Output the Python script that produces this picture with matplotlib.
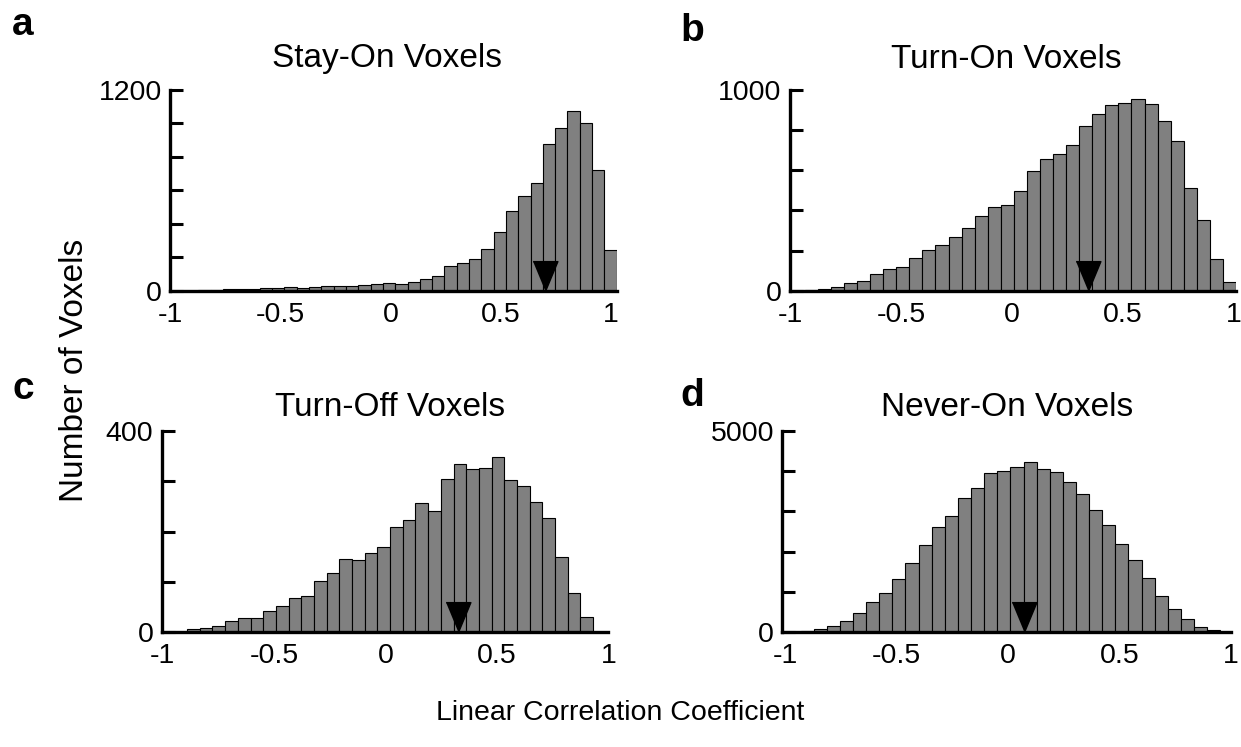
import matplotlib
matplotlib.use("Agg")
import matplotlib.pyplot as plt
import numpy as np

plt.rcParams['font.family'] = ['Liberation Sans', 'DejaVu Sans']

# histogram counts, one value per bin
stay_on = [0, 0, 2, 4, 10, 10, 12, 18, 18, 22, 18, 20, 26, 26, 30, 34, 40, 44,
           40, 50, 70, 86, 148, 163, 189, 251, 349, 474, 568, 642, 877, 973,
           1072, 1000, 723, 241]
turn_on = [0, 3, 8, 17, 37, 47, 81, 110, 116, 161, 201, 226, 266, 314, 372,
           417, 427, 495, 595, 656, 681, 728, 819, 882, 925, 937, 953, 928,
           844, 744, 513, 350, 158, 43]
turn_off = [0, 0, 5, 7, 12, 22, 27, 27, 41, 51, 68, 72, 101, 118, 146, 143,
            157, 169, 209, 223, 257, 240, 304, 335, 324, 326, 349, 302, 290,
            259, 226, 150, 78, 29, 0]
never_on = [0, 0, 25, 66, 141, 274, 464, 755, 962, 1318, 1716, 2164, 2612,
            2886, 3325, 3590, 3964, 4006, 4096, 4221, 4064, 3988, 3723, 3425,
            3043, 2653, 2181, 1783, 1343, 904, 564, 315, 124, 41, 10]

# first / last bin edge of each histogram
bin_range = {"a": (-0.983, 1.026), "b": (-0.992, 1.011),
             "c": (-1.005, 0.989), "d": (-1.050, 1.012)}
x_limits = {"a": (-0.968, 1.026), "b": (-0.980, 1.011),
            "c": (-1.005, 0.989), "d": (-1.014, 0.9875)}
medians = {"a": 0.703, "b": 0.345, "c": 0.324, "d": 0.072}
y_max = {"a": 1200, "b": 1000, "c": 400, "d": 5000}
y_step = {"a": 200, "b": 200, "c": 100, "d": 1000}
titles = {"a": "Stay-On Voxels", "b": "Turn-On Voxels",
          "c": "Turn-Off Voxels", "d": "Never-On Voxels"}
counts = {"a": stay_on, "b": turn_on, "c": turn_off, "d": never_on}
x_ticks = [-1, -0.5, 0, 0.5, 1]
x_tick_labels = ["-1", "-0.5", "0", "0.5", "1"]

W, H = 1241, 747
fig = plt.figure(figsize=(W / 100, H / 100), dpi=100)

# axes boxes in pixels: left, right, top, bottom
boxes = {"a": (170, 616.7, 90, 290.7), "b": (790, 1236, 90, 290.7),
         "c": (161.7, 608.3, 431, 632), "d": (782.3, 1230.7, 431, 632)}
# title centres in pixels
title_pos = {"a": (387, 59), "b": (1006, 59), "c": (390, 407), "d": (1007, 407)}
letter_pos = {"a": (23, 25), "b": (692, 31), "c": (23, 389), "d": (692, 396)}

tri = [(-0.83, 2), (0.83, 2), (0, 0)]

for key in "abcd":
    x0, x1, yt, yb = boxes[key]
    ax = fig.add_axes([x0 / W, 1 - yb / H, (x1 - x0) / W, (yb - yt) / H])
    c = counts[key]
    lo, hi = bin_range[key]
    edges = np.linspace(lo, hi, len(c) + 1)
    ax.bar(edges[:-1], c, width=np.diff(edges), align="edge",
           color="#808080", edgecolor="black", linewidth=0.8)
    ax.plot([medians[key]], [0], marker=tri, markersize=43, color="black",
            linestyle="none", clip_on=False, zorder=5)
    ax.set_xlim(*x_limits[key])
    ax.set_ylim(0, y_max[key])
    for s in ["top", "right"]:
        ax.spines[s].set_visible(False)
    for s in ["left", "bottom"]:
        ax.spines[s].set_linewidth(2.4)
    ax.set_xticks(x_ticks)
    ax.set_xticklabels(x_tick_labels)
    yt_vals = np.arange(0, y_max[key] + 1, y_step[key])
    ax.set_yticks(yt_vals)
    ax.set_yticklabels([str(v) if v in (0, y_max[key]) else "" for v in yt_vals])
    ax.tick_params(axis="y", direction="in", length=9, width=2.2,
                   labelsize=20.5, pad=6)
    ax.tick_params(axis="x", length=0, labelsize=20.5, pad=8)
    tx, ty = title_pos[key]
    fig.text(tx / W, 1 - ty / H, titles[key], fontsize=24,
             ha="center", va="center")
    lx, ly = letter_pos[key]
    fig.text(lx / W, 1 - ly / H, key, fontsize=28, fontweight="bold",
             ha="center", va="center")

fig.text(75 / W, 1 - 370 / H, "Number of Voxels", fontsize=24, rotation=90,
         ha="center", va="center")
fig.text(620 / W, 1 - 713 / H, "Linear Correlation Coefficient", fontsize=20.5,
         ha="center", va="center")

fig.savefig("out.png", dpi=100)
